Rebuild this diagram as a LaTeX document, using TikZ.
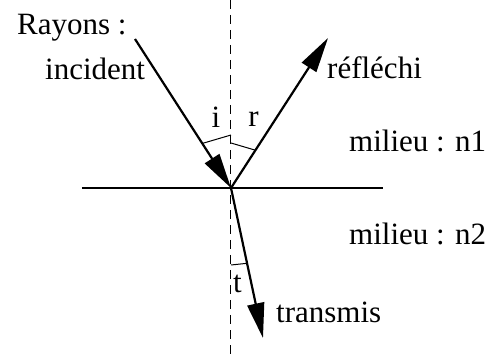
\documentclass[tikz,border=0pt]{standalone}
\usepackage{fontspec}
\setmainfont{Liberation Serif}
\usetikzlibrary{arrows.meta,positioning}

\begin{document}
\begin{tikzpicture}[
  x=1pt, y=1pt,
  font=\fontsize{31}{37}\selectfont,
  lbl/.style={inner sep=0pt, anchor=base west},
  angl/.style={inner sep=0pt, anchor=base},
  ray/.style={-{Triangle[length=35pt,width=17pt]}, line width=2.2pt},
  normal/.style={dash pattern=on 9pt off 6pt, line width=1pt},
  angmark/.style={line width=1pt}
]
  \useasboundingbox (-231,-168) rectangle (265,188);

  % points of the figure
  \coordinate (O) at (0,0);
  \coordinate (top) at (0,188);
  \coordinate (bot) at (0,-168);
  \coordinate (west) at (-149,0);
  \coordinate (east) at (152,0);
  \coordinate (src) at (-96,149);
  \coordinate (refl) at (97,150);
  \coordinate (trans) at (32,-150);

  \draw[normal] (top) -- (bot);
  \draw[line width=2.2pt] (west) -- (east);
  \draw[ray] (src) -- (O);
  \draw[ray] (O) -- (refl);
  \draw[ray] (O) -- (trans);

  % angle marks
  \draw[angmark] ([shift={(90:53)}]O) -- ([shift={(122.8:53)}]O);
  \draw[angmark] ([shift={(90:45)}]O) -- ([shift={(57.1:45)}]O);
  \draw[angmark] ([shift={(270:77)}]O) -- ([shift={(282:77)}]O);

  \node[angl] (ai) at (-15,60) {i};
  \node[angl] (ar) at (22.5,61) {r};
  \node[angl] (at) at (6.5,-105) {t};

  \node[lbl] (rayons) at (-214,153) {Rayons :};
  \node[lbl] (inc) at (-186,108) {incident};
  \node[lbl] (refl-l) at (96,109) {réfléchi};
  \node[lbl] (n1) at (118,36) {milieu : n1};
  \node[lbl] (n2) at (118,-57) {milieu : n2};
  \node[lbl] (trans-l) at (45,-135) {transmis};
\end{tikzpicture}
\end{document}
